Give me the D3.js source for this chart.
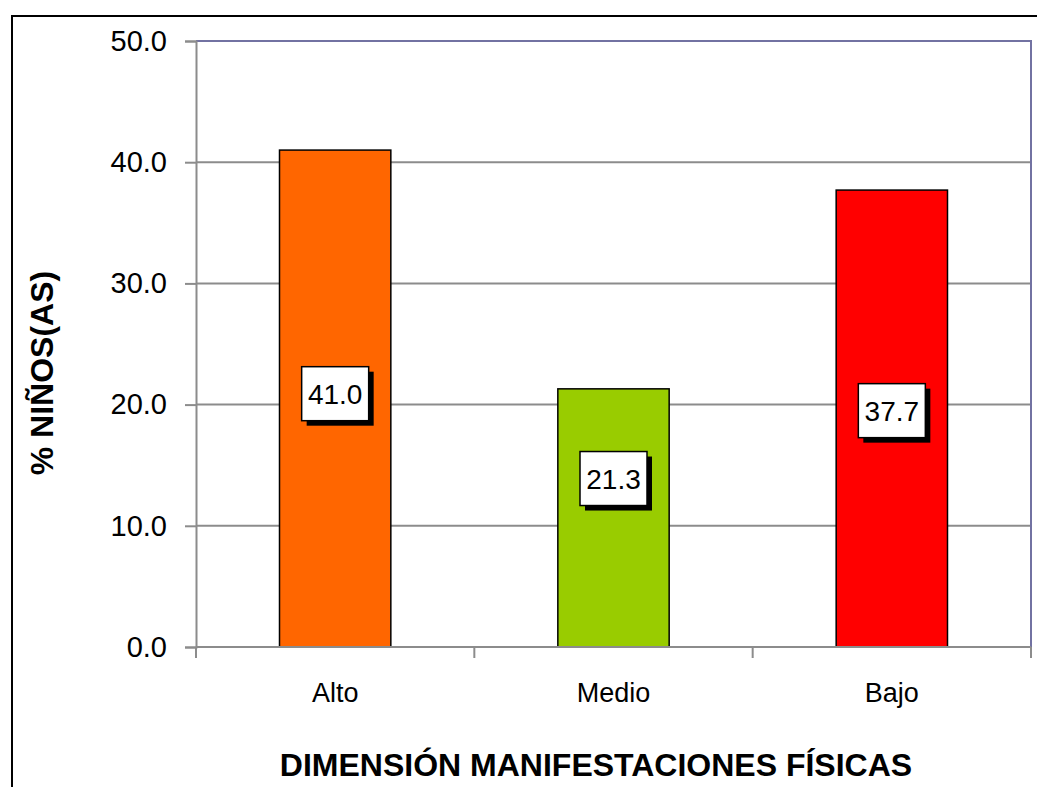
<!DOCTYPE html>
<meta charset="utf-8">
<style>
    body { margin: 0; background: #fff; }
    text { font-family: Arial, "Liberation Sans", sans-serif; fill: #000; }
    .grid line { stroke: #8c8c8c; stroke-width: 2; }
    .bar { stroke: #000; stroke-width: 1.5; }
</style>
<body>
<svg width="1037" height="787"></svg>
<script src="https://d3js.org/d3.v7.min.js"></script>
<script>
    // chart data
    var categories = ["Alto", "Medio", "Bajo"];
    var values = [41.0, 21.3, 37.7];
    var barColors = ["#FF6600", "#99CC00", "#FF0000"];
    // where the value boxes sit, in % units
    var labelAt = [20.9, 13.9, 19.5];
    var yTicks = [0, 10, 20, 30, 40, 50];

    var width = 1037, height = 787;
    var plot = { left: 196, right: 1031, top: 41, bottom: 647 };

    var svg = d3.select("svg");

    // outer frame (runs off the right and bottom edge)
    svg.append("rect")
        .attr("x", 12).attr("y", 16)
        .attr("width", 1100).attr("height", 900)
        .attr("fill", "none").attr("stroke", "#000").attr("stroke-width", 2);

    var yScale = d3.scaleLinear().domain([0, 50]).range([plot.bottom, plot.top]);
    var xScale = d3.scaleBand().domain(categories)
        .range([plot.left, plot.right])
        .paddingInner(0.6).paddingOuter(0.3);
    var xEdge = d3.scaleLinear().domain([0, categories.length]).range([plot.left, plot.right]);

    // gridlines
    svg.append("g").attr("class", "grid")
        .selectAll("line")
        .data(yTicks.filter(function (d) { return d > 0 && d < 50; }))
        .enter().append("line")
        .attr("x1", plot.left).attr("x2", plot.right)
        .attr("y1", function (d) { return yScale(d); })
        .attr("y2", function (d) { return yScale(d); });

    // top and right border of plot area
    svg.append("path")
        .attr("d", "M" + plot.left + "," + yScale(50) + "H" + plot.right + "V" + yScale(0))
        .attr("fill", "none").attr("stroke", "#7272a2").attr("stroke-width", 2);

    // bars
    svg.selectAll(".bar")
        .data(values)
        .enter().append("rect")
        .attr("class", "bar")
        .attr("x", function (d, i) { return xScale(categories[i]); })
        .attr("width", xScale.bandwidth())
        .attr("y", function (d) { return yScale(d); })
        .attr("height", function (d) { return yScale(0) - yScale(d); })
        .attr("fill", function (d, i) { return barColors[i]; });

    // y axis
    var yAxis = d3.axisLeft(yScale).tickValues(yTicks).tickSize(11).tickPadding(18)
        .tickFormat(d3.format(".1f"));
    var gy = svg.append("g")
        .attr("transform", "translate(" + plot.left + ",0)")
        .call(yAxis);
    gy.select(".domain").attr("stroke", "#8c8c8c").attr("stroke-width", 2);
    gy.selectAll(".tick line").attr("stroke", "#8c8c8c").attr("stroke-width", 2);
    gy.selectAll(".tick text")
        .style("font-size", "29px")
        .style("font-family", "Arial, 'Liberation Sans', sans-serif")
        .attr("fill", "#000");

    // x axis line + boundary ticks
    var gx = svg.append("g");
    gx.append("line")
        .attr("x1", plot.left).attr("x2", plot.right)
        .attr("y1", yScale(0)).attr("y2", yScale(0))
        .attr("stroke", "#8c8c8c").attr("stroke-width", 2);
    gx.selectAll(".xt")
        .data(d3.range(categories.length + 1))
        .enter().append("line")
        .attr("x1", function (d) { return xEdge(d); })
        .attr("x2", function (d) { return xEdge(d); })
        .attr("y1", yScale(0)).attr("y2", yScale(0) + 11)
        .attr("stroke", "#8c8c8c").attr("stroke-width", 2);
    gx.selectAll(".xl")
        .data(categories)
        .enter().append("text")
        .attr("x", function (d) { return xScale(d) + xScale.bandwidth() / 2; })
        .attr("y", 702)
        .attr("text-anchor", "middle")
        .style("font-size", "27px")
        .text(function (d) { return d; });

    // value boxes
    var boxW = 67, boxH = 54;
    var lab = svg.selectAll(".lab")
        .data(values)
        .enter().append("g")
        .attr("transform", function (d, i) {
            return "translate(" + (xScale(categories[i]) + xScale.bandwidth() / 2) + "," + yScale(labelAt[i]) + ")";
        });
    lab.append("rect")
        .attr("x", -boxW / 2 + 5).attr("y", -boxH / 2 + 5)
        .attr("width", boxW).attr("height", boxH)
        .attr("fill", "#000");
    lab.append("rect")
        .attr("x", -boxW / 2).attr("y", -boxH / 2)
        .attr("width", boxW).attr("height", boxH)
        .attr("fill", "#fff").attr("stroke", "#000").attr("stroke-width", 1.5);
    lab.append("text")
        .attr("text-anchor", "middle")
        .attr("y", 10)
        .style("font-size", "28px")
        .text(function (d) { return d3.format(".1f")(d); });

    // axis titles
    svg.append("text")
        .attr("x", 596)
        .attr("y", 776)
        .attr("text-anchor", "middle")
        .style("font-size", "32px")
        .style("font-weight", "bold")
        .text("DIMENSIÓN MANIFESTACIONES FÍSICAS");

    svg.append("text")
        .attr("transform", "translate(53,373) rotate(-90)")
        .attr("text-anchor", "middle")
        .style("font-size", "32px")
        .style("font-weight", "bold")
        .text("% NIÑOS(AS)");
</script>
</body>
